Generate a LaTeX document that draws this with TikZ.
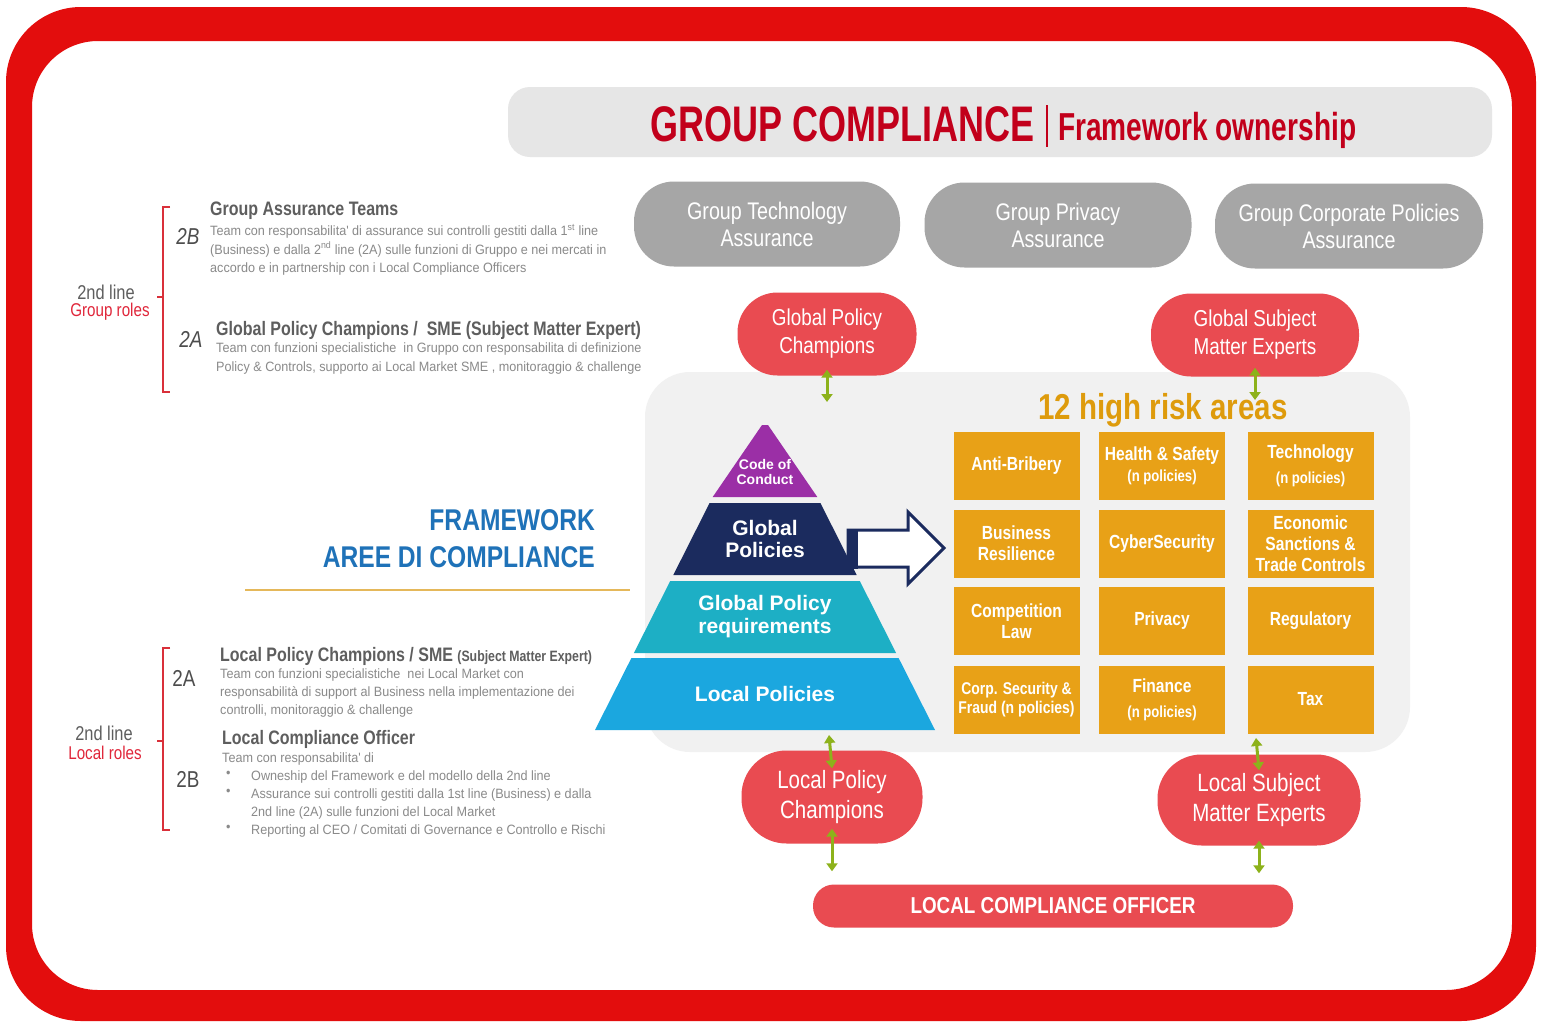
\documentclass[tikz,border=0pt]{standalone}
\usepackage{fontspec}
\setmainfont{Liberation Sans}
\newfontfamily\nar[FakeStretch=0.82]{Liberation Sans}
\newfontfamily\narh[FakeStretch=0.72]{Liberation Sans}
\newfontfamily\narb[FakeStretch=0.935]{Liberation Sans}
\usetikzlibrary{arrows.meta}
\newcommand\fsz[2]{\fontsize{#1}{#2}\selectfont}
\definecolor{framered}{HTML}{E30D0D}
\definecolor{titlered}{HTML}{C2001B}
\definecolor{headbg}{HTML}{E6E6E6}
\definecolor{pillgray}{HTML}{A6A6A6}
\definecolor{pillred}{HTML}{E94B51}
\definecolor{panelgray}{HTML}{F1F1F1}
\definecolor{boxorange}{HTML}{E8A117}
\definecolor{riskgold}{HTML}{DE9B0C}
\definecolor{arrowgreen}{HTML}{8DB21B}
\definecolor{pyrpurple}{HTML}{9B2FA6}
\definecolor{pyrnavy}{HTML}{1B2B5E}
\definecolor{pyrteal}{HTML}{1DAFC5}
\definecolor{pyrblue}{HTML}{1BA7DF}
\definecolor{fwblue}{HTML}{1F72B8}
\definecolor{goldline}{HTML}{E5B85A}
\definecolor{bodygray}{HTML}{8A8A8A}
\definecolor{headgray}{HTML}{5E5E5E}
\definecolor{taggray}{HTML}{4D4D4D}
\definecolor{bracketred}{HTML}{D9303A}
\definecolor{rolered}{HTML}{E0263A}
\begin{document}
\begin{tikzpicture}[x=1pt,y=-1pt,
  every node/.style={inner sep=0pt},
  graypill/.style={fill=pillgray, rounded corners=40pt, minimum height=85pt, text=white, align=center, font=\nar\fsz{24}{27}},
  redpill/.style={fill=pillred, text=white, align=center},
  garrow/.style={draw=arrowgreen, line width=3pt, {Triangle[width=11pt,length=8pt]}-{Triangle[width=11pt,length=8pt]}},
  orbox/.style={fill=boxorange, minimum width=126pt, minimum height=68pt, text=white, align=center, font=\nar\bfseries\fsz{19}{21}},
  body/.style={anchor=north west, align=left, text=bodygray, font=\narb\fsz{13.5}{18.5}},
  head/.style={anchor=north west, text=headgray, font=\nar\bfseries\fsz{19.5}{22}},
  linelbl/.style={text=headgray, font=\nar\fsz{20}{20}},
  rolelbl/.style={text=rolered, font=\nar\fsz{18.5}{18.5}},
  tag/.style={text=taggray, font=\nar\fsz{23}{23}},
  pyr/.style={text=white, align=center, font=\bfseries\fsz{21}{22}},
  brk/.style={draw=bracketred, line width=1.4pt},
]
\useasboundingbox (0,0) rectangle (1542,1023);
\fill[white] (0,0) rectangle (1542,1023);
% frame
\fill[framered, even odd rule] [rounded corners=75pt] (6,7) rectangle (1536,1021) [rounded corners=66pt] (32,41) rectangle (1512,990);

% header
\fill[headbg, rounded corners=22pt] (508,87) rectangle (1492,157);
\node[anchor=base west, text=titlered, font=\narh\bfseries\fsz{50}{50}] (gc) at (650,141) {GROUP COMPLIANCE};
\draw[titlered, line width=2pt] (1047,105) -- (1047,147);
\node[anchor=base west, text=titlered, font=\narh\bfseries\fsz{39}{39}] (fo) at (1058,140) {Framework ownership};

% gray pills
\node[graypill, minimum width=266pt] (gta) at (767,224) {Group Technology\\Assurance};
\node[graypill, minimum width=267pt] (gpa) at (1058,225) {Group Privacy\\Assurance};
\node[graypill, minimum width=268pt] (gcp) at (1349,226) {Group Corporate Policies\\Assurance};

% panel
\fill[panelgray, rounded corners=45pt] (645,372) rectangle (1410,752);

% pyramid
\fill[pyrpurple] (762,425) -- (768,425) -- (817.3,497) -- (712.7,497) -- cycle;
\fill[pyrnavy] (709.6,503) -- (820.4,503) -- (856.7,575) -- (673.3,575) -- cycle;
\fill[pyrteal] (670.2,581) -- (859.8,581) -- (896.1,653) -- (633.9,653) -- cycle;
\fill[pyrblue] (631.4,658) -- (898.6,658) -- (935,730) -- (595,730) -- cycle;
\node[pyr, font=\bfseries\fsz{14}{15}] (coc) at (765,472) {Code of\\Conduct};
\node[pyr] (gp) at (765,539) {Global\\Policies};
\node[pyr, font=\bfseries\fsz{21}{23}] (gpr) at (765,617) {Global Policy\\requirements};
\node[pyr] (lp) at (765,694) {Local Policies};

% hollow arrow
\filldraw[draw=pyrnavy, fill=white, line width=3pt, line join=miter] (848,530) -- (908,530) -- (908,512) -- (944,548) -- (908,584) -- (908,567) -- (848,567) -- cycle;
\fill[pyrnavy] (847,528.5) rectangle (858,568.5);

% 12 high risk areas
\node[text=riskgold, font=\nar\bfseries\fsz{36}{36}] (hra) at (1163,410) {12 high risk areas};

% orange grid
\node[orbox] (b11) at (1016.5,466) {Anti-Bribery};
\node[orbox] (b12) at (1162,466) {Health \& Safety\\{\fsz{16}{18}(n policies)}};
\node[orbox] (b13) at (1310.5,466) {Technology\\[4pt]{\fsz{16}{18}(n policies)}};
\node[orbox] (b21) at (1016.5,543.5) {Business\\Resilience};
\node[orbox] (b22) at (1162,543.5) {CyberSecurity};
\node[orbox] (b23) at (1310.5,543.5) {Economic\\Sanctions \&\\Trade Controls};
\node[orbox] (b31) at (1016.5,621) {Competition\\Law};
\node[orbox] (b32) at (1162,621) {Privacy};
\node[orbox] (b33) at (1310.5,621) {Regulatory};
\node[orbox, font=\nar\bfseries\fsz{17}{19}] (b41) at (1016.5,699.5) {Corp. Security \&\\Fraud (n policies)};
\node[orbox] (b42) at (1162,699.5) {Finance\\[4pt]{\fsz{16}{18}(n policies)}};
\node[orbox] (b43) at (1310.5,699.5) {Tax};

% red pills
\node[redpill, minimum width=179pt, minimum height=83pt, rounded corners=40pt, font=\nar\fsz{23}{28}] (gpc) at (827,334) {Global Policy\\Champions};
\node[redpill, minimum width=208pt, minimum height=83pt, rounded corners=40pt, font=\nar\fsz{23}{28}] (gsme) at (1255,335) {Global Subject\\Matter Experts};
\node[redpill, minimum width=181pt, minimum height=93pt, rounded corners=45pt, font=\nar\fsz{25}{30}] (lpc) at (832,797) {Local Policy\\Champions};
\node[redpill, minimum width=203pt, minimum height=91pt, rounded corners=44pt, font=\nar\fsz{25}{30}] (lsme) at (1259,800) {Local Subject\\Matter Experts};
\node[redpill, minimum width=480pt, minimum height=43pt, rounded corners=21pt, font=\nar\bfseries\fsz{23}{23}] (lco) at (1053,906) {LOCAL COMPLIANCE OFFICER};

% green arrows
\coordinate (ga1) at (827,402);
\coordinate (ga2) at (1255,400);
\coordinate (ga3) at (829,735);
\coordinate (ga4) at (1256,738);
\draw[garrow] ([yshift=6pt]gpc.south) -- (ga1);
\draw[garrow] ([yshift=9pt]gsme.south) -- (ga2);
\draw[garrow] (ga3) -- ([yshift=-18pt]lpc.north);
\draw[garrow] (ga4) -- ([yshift=-16pt]lsme.north);
\path (lpc.south |- lco.north) ++(0,-13) coordinate (ga5);
\path (lsme.south |- lco.north) ++(0,-11) coordinate (ga6);
\draw[garrow] ([yshift=15pt]lpc.south) -- (ga5);
\draw[garrow] ([yshift=5pt]lsme.south) -- (ga6);

% FRAMEWORK title
\node[anchor=base east, text=fwblue, font=\nar\bfseries\fsz{30}{30}] (fw1) at (595,530) {FRAMEWORK};
\node[anchor=base east, text=fwblue, font=\nar\bfseries\fsz{30}{30}] (fw2) at (595,567) {AREE DI COMPLIANCE};
\draw[goldline, line width=2pt] (245,590) -- (630,590);

% left upper: group roles
\draw[brk] (170,207) -- (163,207) -- (163,392) -- (170,392);
\draw[brk] (163,297) -- (157,297);
\node[linelbl] (l1) at (106,292) {2nd line};
\node[rolelbl] (r1) at (110,312) {Group roles};
\node[tag, font=\nar\itshape\fsz{23}{23}] (t2b) at (188,236) {2B};
\node[tag, font=\nar\itshape\fsz{23}{23}] (t2a) at (191,339) {2A};
\node[head] (h1) at (210,202) {Group Assurance Teams};
\node[body] (p1) at (210,224) {Team con responsabilita' di assurance sui controlli gestiti dalla 1\textsuperscript{st} line\\(Business) e dalla 2\textsuperscript{nd} line (2A) sulle funzioni di Gruppo e nei mercati in\\accordo e in partnership con i Local Compliance Officers};
\node[head] (h2) at (216,321) {Global Policy Champions /\ \ SME (Subject Matter Expert)};
\node[body, font=\narb\fsz{13.5}{19}] (p2) at (216,343) {Team con funzioni specialistiche\ \ in Gruppo con responsabilita di definizione\\Policy \& Controls, supporto ai Local Market SME , monitoraggio \& challenge};

% left lower: local roles
\draw[brk] (170,648) -- (163,648) -- (163,830) -- (170,830);
\draw[brk] (163,741) -- (157,741);
\node[linelbl] (l2) at (104,733) {2nd line};
\node[rolelbl] (r2) at (105,753) {Local roles};
\node[tag] (t2a2) at (184,678) {2A};
\node[tag] (t2b2) at (188,779) {2B};
\node[head] (h3) at (220,647) {Local Policy Champions / SME {\fsz{15}{15}(Subject Matter Expert)}};
\node[body, font=\narb\fsz{13.5}{18}] (p3) at (220,669) {Team con funzioni specialistiche\ \ nei Local Market con\\responsabilità di support al Business nella implementazione dei\\controlli, monitoraggio \& challenge};
\node[head] (h4) at (222,730) {Local Compliance Officer};
\node[body] (p4) at (222,753) {Team con responsabilita' di};
\node[body, font=\narb\fsz{13.5}{18}] (p5) at (251,771) {Owneship del Framework e del modello della 2nd line\\Assurance sui controlli gestiti dalla 1st line (Business) e dalla\\2nd line (2A) sulle funzioni del Local Market\\Reporting al CEO / Comitati di Governance e Controllo e Rischi};
\node[body] (bl1) at (226,771) {\textbullet};
\node[body] (bl2) at (226,789) {\textbullet};
\node[body] (bl3) at (226,825) {\textbullet};
\end{tikzpicture}
\end{document}
